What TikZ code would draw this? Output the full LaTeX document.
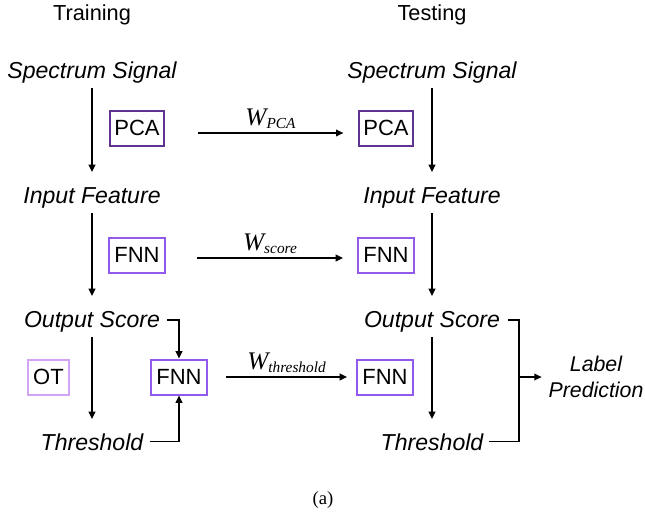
\documentclass[tikz,border=0pt]{standalone}
\usepackage{fontspec}
\setmainfont{Liberation Serif}
\setsansfont{Liberation Sans}
\usetikzlibrary{arrows.meta}
\definecolor{pcacol}{HTML}{5E3392}
\definecolor{fnncol}{HTML}{9159EC}
\definecolor{otcol}{HTML}{D3A3F5}
\begin{document}
\begin{tikzpicture}[x=0.75pt,y=-0.75pt,
  lbl/.style={font=\sffamily\itshape\fontsize{17.3}{20}\selectfont, inner sep=0pt, anchor=base, text height=11.5pt, text depth=3.5pt},
  hdr/.style={font=\sffamily\fontsize{16.3}{19}\selectfont, inner sep=0pt, anchor=base},
  box/.style={draw, line width=1.5pt, font=\sffamily\fontsize{16.5}{19}\selectfont, inner xsep=3pt, inner ysep=0pt, minimum height=26.25pt},
  pcabox/.style={box, draw=pcacol, minimum width=39pt},
  fnnbox/.style={box, draw=fnncol, minimum width=42pt},
  otbox/.style={box, draw=otcol, minimum width=31pt},
  arr/.style={line width=1.1pt, -{Triangle[length=5.5pt,width=5pt]}},
  ln/.style={line width=1.1pt},
  vflow/.style={arr, shorten <=4pt, shorten >=11.5pt},
  wl/.style={font=\fontsize{19}{22}\selectfont\itshape, inner sep=0pt, anchor=base}
]
\useasboundingbox (0,0) rectangle (645,514);
\newcommand{\wsub}[1]{W\raisebox{-2.5pt}{\fontsize{11.5}{13}\selectfont #1}}

% headers
\node[hdr] (htrain) at (92,21) {Training};
\node[hdr] (htest) at (432,21) {Testing};

% training column
\node[lbl] (ss1) at (92,78) {Spectrum Signal};
\node[lbl] (if1) at (92,203) {Input Feature};
\node[lbl] (os1) at (92,327) {Output Score};
\node[lbl] (th1) at (92,450) {Threshold};

% testing column
\node[lbl] (ss2) at (432,78) {Spectrum Signal};
\node[lbl] (if2) at (432,203) {Input Feature};
\node[lbl] (os2) at (432,327) {Output Score};
\node[lbl] (th2) at (432,450) {Threshold};

% boxes
\node[pcabox] (pca1) at (137,128) {PCA};
\node[pcabox] (pca2) at (386,128) {PCA};
\node[fnnbox] (fnn1) at (137,255) {FNN};
\node[fnnbox] (fnn2) at (386,255) {FNN};
\node[otbox] (ot) at (48.5,377) {OT};
\node[fnnbox] (fnnT) at (179,377) {FNN};
\node[fnnbox] (fnn4) at (385,377) {FNN};

% label prediction
\node[font=\sffamily\itshape\fontsize{16}{20}\selectfont, align=center, inner xsep=5pt, inner ysep=0pt] (lp) at (596,377) {Label\\Prediction};

% vertical flows
\draw[vflow] (ss1) -- (if1);
\draw[vflow] (if1) -- (os1);
\draw[vflow] (os1) -- (th1);
\draw[vflow] (ss2) -- (if2);
\draw[vflow] (if2) -- (os2);
\draw[vflow] (os2) -- (th2);

% weight transfers
\draw[arr] ([xshift=24.75pt,yshift=-3.75pt]pca1.east) -- ([xshift=-11.25pt,yshift=-3.75pt]pca2.west)
  node[wl, midway, yshift=6pt] {\wsub{PCA}};
\draw[arr] ([xshift=23.25pt,yshift=-2.25pt]fnn1.east) -- ([xshift=-10.5pt,yshift=-2.25pt]fnn2.west)
  node[wl, midway, yshift=6pt] {\wsub{score}};
\draw[arr] ([xshift=13.5pt]fnnT.east) -- ([xshift=-6.75pt]fnn4.west)
  node[wl, midway, yshift=6pt] {\wsub{threshold}};

% training threshold FNN inputs
\draw[arr] ([xshift=5pt,yshift=1.3pt]os1.east) -| (fnnT.north);
\draw[arr] ([xshift=4.5pt,yshift=2.25pt]th1.east) -| (fnnT.south);

% testing bracket to label prediction
\coordinate (br) at (519,377);
\draw[ln] ([xshift=6pt,yshift=1.3pt]os2.east) -| (br);
\draw[ln] ([xshift=4pt,yshift=2.25pt]th2.east) -| (br);
\draw[arr] (br) -- (lp.west);

% caption
\node[font=\fontsize{14}{16}\selectfont, inner sep=0pt, anchor=base] (cap) at (323,504) {(a)};
\end{tikzpicture}
\end{document}
